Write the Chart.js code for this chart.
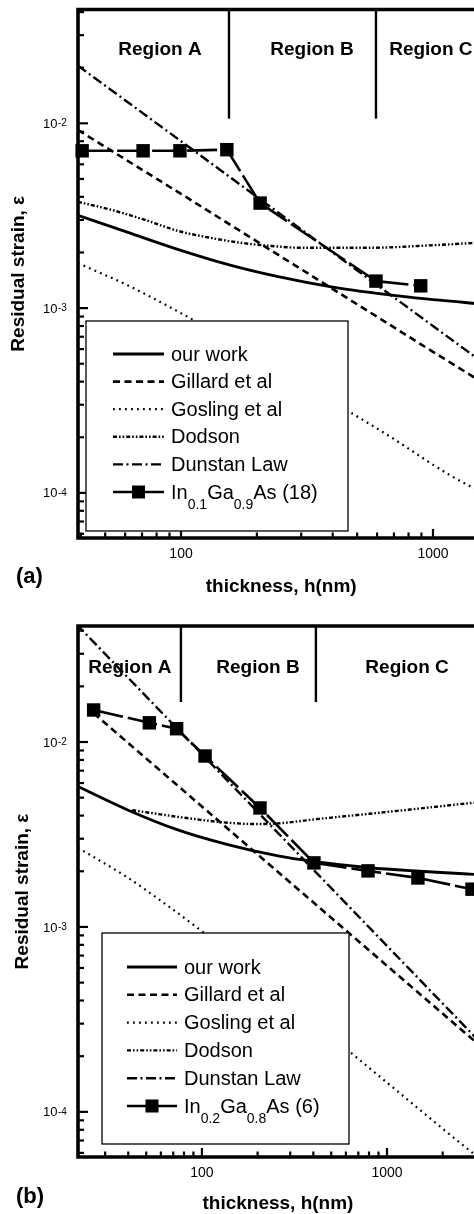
<!DOCTYPE html>
<html>
<head>
<meta charset="utf-8">
<title>Residual strain vs thickness</title>
<script src="https://cdn.jsdelivr.net/npm/chart.js@4.4.1/dist/chart.umd.min.js"></script>
<style>
  html, body { margin: 0; padding: 0; background: #fff; overflow: hidden; }
  body { width: 474px; height: 1214px; position: relative; }
  canvas { position: absolute; left: 0; }
  #chartA { top: 0; }
  #chartB { top: 600px; }
</style>
</head>
<body>
<canvas id="chartA" width="500" height="600"></canvas>
<canvas id="chartB" width="500" height="620"></canvas>
<script>
/* ===============================
   DATA – panel (a), In0.1Ga0.9As
================================ */
const thickA_ours = [39, 62, 97, 154, 243, 400, 740, 1000, 1600];
const strainA_ours = [3.18e-3, 2.56e-3, 2.08e-3, 1.72e-3, 1.48e-3, 1.3e-3, 1.16e-3, 1.11e-3, 1.05e-3];

const thickA_gillard = [39, 100, 1000, 1600];
const strainA_gillard = [9.2e-3, 4.15e-3, 5.8e-4, 3.9e-4];

const thickA_gosling = [39, 62, 97, 220, 620, 1440, 1600];
const strainA_gosling = [1.75e-3, 1.32e-3, 9.6e-4, 5.08e-4, 2.17e-4, 1.07e-4, 1.02e-4];

const thickA_dodson = [39, 53, 72, 97, 131, 180, 228, 300, 550, 1000, 1600];
const strainA_dodson = [3.76e-3, 3.4e-3, 3.0e-3, 2.62e-3, 2.4e-3, 2.24e-3, 2.17e-3, 2.12e-3, 2.12e-3, 2.19e-3, 2.27e-3];

const thickA_dunstan = [39, 100, 1000, 1600];
const strainA_dunstan = [2.05e-2, 8.0e-3, 8.0e-4, 5.0e-4];

const thickA_exp = [40.5, 70.7, 99, 152, 206, 594, 894];
const strainA_exp = [7.1e-3, 7.1e-3, 7.1e-3, 7.2e-3, 3.7e-3, 1.4e-3, 1.32e-3];

const regionEdgesA = [155, 594];

/* ===============================
   DATA – panel (b), In0.2Ga0.8As
================================ */
const thickB_ours = [21.4, 40, 74, 138, 258, 400, 800, 1500, 2800, 3100];
const strainB_ours = [5.75e-3, 4.28e-3, 3.35e-3, 2.79e-3, 2.42e-3, 2.26e-3, 2.09e-3, 2.0e-3, 1.93e-3, 1.92e-3];

const thickB_gillard = [26, 100, 1000, 3100];
const strainB_gillard = [1.43e-2, 4.48e-3, 6.17e-4, 2.33e-4];

const thickB_gosling = [21.4, 40, 61.5, 101, 200, 623, 1000, 2900, 3100];
const strainB_gosling = [2.68e-3, 1.84e-3, 1.36e-3, 9.4e-4, 5.42e-4, 2.13e-4, 1.44e-4, 6.0e-5, 5.7e-5];

const thickB_dodson = [42, 74, 138, 200, 258, 430, 800, 1500, 2800, 3100];
const strainB_dodson = [4.28e-3, 3.94e-3, 3.66e-3, 3.6e-3, 3.63e-3, 3.84e-3, 4.09e-3, 4.37e-3, 4.67e-3, 4.72e-3];

const thickB_dunstan = [21, 100, 1000, 3100];
const strainB_dunstan = [4.33e-2, 8.6e-3, 7.9e-4, 2.45e-4];

const thickB_exp = [26, 52, 73, 104, 206, 403, 790, 1470, 2880];
const strainB_exp = [1.49e-2, 1.27e-2, 1.18e-2, 8.4e-3, 4.4e-3, 2.22e-3, 2.01e-3, 1.84e-3, 1.6e-3];

const regionEdgesB = [77, 413];

const regionNames = ["Region A", "Region B", "Region C"];
const seriesLabels = ["our work", "Gillard et al", "Gosling et al", "Dodson", "Dunstan Law"];

/* ===============================
   STYLE
================================ */
const FONT = '"Liberation Sans", Arial, Helvetica, sans-serif';
Chart.defaults.font.family = FONT;
Chart.defaults.color = "#000";

const LINE_STYLES = [
  { borderWidth: 2.8, borderDash: [], cubicInterpolationMode: "monotone" },
  { borderWidth: 2.6, borderDash: [7, 4.5] },
  { borderWidth: 2.2, borderDash: [1.8, 4.2], cubicInterpolationMode: "monotone" },
  { borderWidth: 2.4, borderDash: [4, 2, 1.6, 2, 1.6, 2], cubicInterpolationMode: "monotone" },
  { borderWidth: 2.4, borderDash: [10, 3.5, 2, 3.5] }
];
const EXP_STYLE = { borderWidth: 2.6, borderDash: [30, 5], pointStyle: "rect", pointRadius: 9.5, clip: false };

function pts(xs, ys) {
  return xs.map((x, i) => ({ x: x, y: ys[i] }));
}

function logTicks(min, max) {
  const out = [];
  const e0 = Math.floor(Math.log10(min));
  const e1 = Math.ceil(Math.log10(max));
  for (let e = e0; e <= e1; e++) {
    for (let m = 1; m <= 9; m++) {
      const v = m * Math.pow(10, e);
      if (v >= min * 0.9999 && v <= max * 1.0001) out.push({ value: v, exp: e, major: m === 1 });
    }
  }
  return out;
}

function isDecade(v) {
  const l = Math.log10(v);
  return Math.abs(l - Math.round(l)) < 1e-6;
}

/* ===============================
   DRAWING PLUGIN – frame, ticks, regions, legend
================================ */
const framePlugin = {
  id: "frame",
  afterDatasetsDraw(chart, args, o) {
    const { ctx, chartArea: a } = chart;
    const x = chart.scales.x;
    const y = chart.scales.y;
    ctx.save();
    ctx.strokeStyle = "#000";
    ctx.fillStyle = "#000";

    // region boundaries
    ctx.lineWidth = 2.4;
    ctx.setLineDash([]);
    o.regionEdges.forEach(h => {
      const px = x.getPixelForValue(h);
      ctx.beginPath();
      ctx.moveTo(px, a.top);
      ctx.lineTo(px, y.getPixelForValue(o.regionLineEnd));
      ctx.stroke();
    });
    ctx.font = "bold 19px " + FONT;
    ctx.textAlign = "center";
    ctx.textBaseline = "middle";
    regionNames.forEach((t, i) => {
      ctx.fillText(t, x.getPixelForValue(o.regionLabelAt[i]), y.getPixelForValue(o.regionLabelStrain));
    });

    // axes frame (left, bottom, top)
    ctx.lineWidth = 3.6;
    ctx.lineJoin = "miter";
    ctx.beginPath();
    ctx.moveTo(chart.width, a.top);
    ctx.lineTo(a.left, a.top);
    ctx.lineTo(a.left, a.bottom);
    ctx.lineTo(chart.width, a.bottom);
    ctx.stroke();

    // inward tick marks
    ctx.lineWidth = 2.2;
    x.ticks.forEach(t => {
      const px = x.getPixelForValue(t.value);
      const len = isDecade(t.value) ? 9 : 5.5;
      ctx.beginPath();
      ctx.moveTo(px, a.bottom);
      ctx.lineTo(px, a.bottom - len);
      ctx.stroke();
    });
    y.ticks.forEach(t => {
      const py = y.getPixelForValue(t.value);
      const len = isDecade(t.value) ? 10 : 6;
      ctx.beginPath();
      ctx.moveTo(a.left, py);
      ctx.lineTo(a.left + len, py);
      ctx.stroke();
    });

    // y tick labels 10^n
    ctx.textAlign = "left";
    y.ticks.filter(t => isDecade(t.value)).forEach(t => {
      const py = y.getPixelForValue(t.value);
      const e = Math.round(Math.log10(t.value));
      ctx.font = "13px " + FONT;
      ctx.textBaseline = "middle";
      ctx.fillText("10", a.left - 35, py + 1);
      ctx.font = "10px " + FONT;
      ctx.textBaseline = "alphabetic";
      ctx.fillText(String(e), a.left - 20, py + 3);
    });

    // legend box
    const b = o.legend;
    ctx.fillStyle = "#fff";
    ctx.fillRect(b.left, b.top, b.right - b.left, b.bottom - b.top);
    ctx.lineWidth = 1.3;
    ctx.strokeRect(b.left, b.top, b.right - b.left, b.bottom - b.top);
    ctx.fillStyle = "#000";
    chart.data.datasets.forEach((ds, i) => {
      const ly = b.top + b.firstRow + i * b.rowGap;
      const x0 = b.left + b.lineStart;
      const x1 = x0 + b.lineLen;
      ctx.lineWidth = ds.borderWidth;
      ctx.setLineDash(ds.pointRadius ? [] : (ds.borderDash || []));
      ctx.beginPath();
      ctx.moveTo(x0, ly);
      ctx.lineTo(x1, ly);
      ctx.stroke();
      ctx.setLineDash([]);
      if (ds.pointRadius) ctx.fillRect((x0 + x1) / 2 - 6.5, ly - 6.5, 13, 13);
      const parts = ds.labelParts || [[ds.label, 0]];
      let tx = b.left + b.textStart;
      ctx.textAlign = "left";
      ctx.textBaseline = "middle";
      parts.forEach(([t, sub]) => {
        ctx.font = (sub ? "14px " : "20px ") + FONT;
        ctx.fillText(t, tx, ly + 1 + (sub ? 12 : 0));
        tx += ctx.measureText(t).width;
      });
    });

    // panel tag
    ctx.font = "bold 22px " + FONT;
    ctx.textAlign = "left";
    ctx.textBaseline = "middle";
    ctx.fillText(o.tag, 16, o.tagY);
    ctx.restore();
  }
};

/* ===============================
   CHART BUILDER
================================ */
function buildPanel(canvasId, p) {
  const datasets = p.series.map((s, i) => Object.assign({
    label: seriesLabels[i],
    data: pts(s[0], s[1]),
    borderColor: "#000",
    backgroundColor: "#000",
    pointRadius: 0,
    fill: false,
    tension: 0
  }, LINE_STYLES[i]));
  datasets.push(Object.assign({
    label: p.expLabel.map(q => q[0]).join(""),
    labelParts: p.expLabel,
    data: pts(p.exp[0], p.exp[1]),
    borderColor: "#000",
    backgroundColor: "#000",
    pointBorderWidth: 0,
    fill: false,
    tension: 0
  }, EXP_STYLE));

  return new Chart(document.getElementById(canvasId), {
    type: "line",
    data: { datasets },
    plugins: [framePlugin],
    options: {
      responsive: false,
      animation: false,
      events: [],
      layout: { padding: { top: p.padTop, right: p.padRight, bottom: 0, left: 0 } },
      plugins: {
        legend: { display: false },
        tooltip: { enabled: false },
        frame: p.frame
      },
      scales: {
        x: {
          type: "logarithmic",
          min: p.xMin,
          max: p.xMax,
          grid: { display: false, drawTicks: false },
          border: { display: false },
          afterBuildTicks: s => { s.ticks = logTicks(p.xMin, p.xMax); },
          afterFit: s => { s.height = p.xAxisHeight; },
          ticks: {
            autoSkip: false,
            maxRotation: 0,
            padding: 8,
            font: { size: 14 },
            color: "#000",
            callback: v => (isDecade(v) ? String(Math.round(v)) : "")
          },
          title: {
            display: true,
            text: "thickness, h(nm)",
            font: { size: 19, weight: "bold" },
            color: "#000",
            padding: { top: 0, bottom: p.xTitlePad }
          }
        },
        y: {
          type: "logarithmic",
          min: p.yMin,
          max: p.yMax,
          grid: { display: false, drawTicks: false },
          border: { display: false },
          afterBuildTicks: s => { s.ticks = logTicks(p.yMin, p.yMax); },
          afterFit: s => { s.width = 78; },
          ticks: { display: false },
          title: {
            display: true,
            text: "Residual strain, ε",
            font: { size: 19, weight: "bold" },
            color: "#000",
            padding: { top: p.yTitlePad, bottom: 0 }
          }
        }
      }
    }
  });
}

buildPanel("chartA", {
  series: [
    [thickA_ours, strainA_ours],
    [thickA_gillard, strainA_gillard],
    [thickA_gosling, strainA_gosling],
    [thickA_dodson, strainA_dodson],
    [thickA_dunstan, strainA_dunstan]
  ],
  exp: [thickA_exp, strainA_exp],
  expLabel: [["In", 0], ["0.1", 1], ["Ga", 0], ["0.9", 1], ["As (18)", 0]],
  xMin: 39, xMax: 1600, yMin: 5.7e-5, yMax: 0.0413,
  padTop: 9, padRight: 15.6, xAxisHeight: 62, xTitlePad: 2, yTitlePad: 7,
  frame: {
    regionEdges: regionEdgesA,
    regionLineEnd: 0.0106,
    regionLabelAt: [82.5, 331, 981],
    regionLabelStrain: 0.025,
    legend: { left: 86, top: 321, right: 348, bottom: 531, firstRow: 33, rowGap: 27.6, lineStart: 27, lineLen: 51, textStart: 85 },
    tag: "(a)", tagY: 577
  }
});

buildPanel("chartB", {
  series: [
    [thickB_ours, strainB_ours],
    [thickB_gillard, strainB_gillard],
    [thickB_gosling, strainB_gosling],
    [thickB_dodson, strainB_dodson],
    [thickB_dunstan, strainB_dunstan]
  ],
  exp: [thickB_exp, strainB_exp],
  expLabel: [["In", 0], ["0.2", 1], ["Ga", 0], ["0.8", 1], ["As (6)", 0]],
  xMin: 21.4, xMax: 3100, yMin: 5.7e-5, yMax: 0.0424,
  padTop: 26, padRight: 22.1, xAxisHeight: 63, xTitlePad: 4.5, yTitlePad: 11,
  frame: {
    regionEdges: regionEdgesB,
    regionLineEnd: 0.01645,
    regionLabelAt: [40.8, 201, 1284],
    regionLabelStrain: 0.0251,
    legend: { left: 102, top: 333, right: 349, bottom: 544, firstRow: 34, rowGap: 27.8, lineStart: 25, lineLen: 50, textStart: 82 },
    tag: "(b)", tagY: 597
  }
});
</script>
</body>
</html>
